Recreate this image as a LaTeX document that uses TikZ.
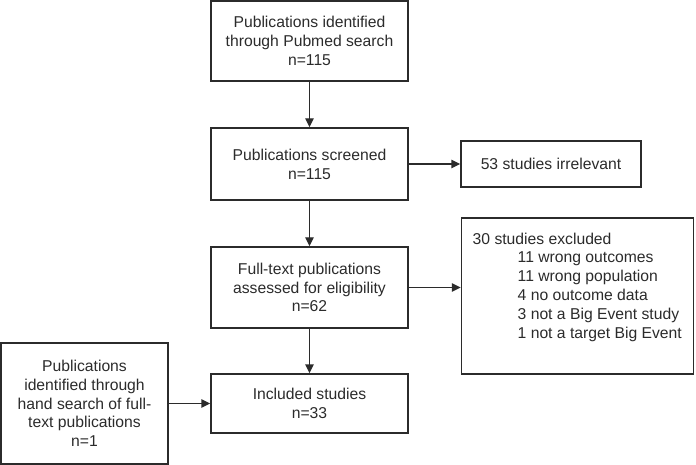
\documentclass[tikz,border=0pt]{standalone}
\usepackage{fontspec}
\setmainfont{Liberation Sans}
\usetikzlibrary{arrows.meta}
\definecolor{ink}{HTML}{2B2B2B}
\begin{document}
\begin{tikzpicture}[x=1pt,y=-1pt,
  box/.style={draw=ink, line width=1.4pt, rectangle, inner sep=0pt, align=center,
    text=ink, font=\fontsize{15.7}{18.8}\selectfont},
  conn/.style={draw=ink, line width=1.4pt, -{Triangle[length=9pt,width=8.5pt]}}]
\useasboundingbox (0,0) rectangle (696,465);
\node[box, minimum width=197pt, minimum height=80pt] (b1) at (309.5,41)
  {Publications identified\\through Pubmed search\\n=115};
\node[box, minimum width=197pt, minimum height=72pt] (b2) at (309.5,164)
  {Publications screened\\n=115};
\node[box, minimum width=197pt, minimum height=81pt] (b3) at (309.5,287.5)
  {Full-text publications\\assessed for eligibility\\n=62};
\node[box, minimum width=197pt, minimum height=59pt] (b4) at (309.5,403.5)
  {Included studies\\n=33};
\node[box, minimum width=167pt, minimum height=121pt] (lb) at (84.5,403.5)
  {Publications\\identified through\\hand search of full-\\text publications\\n=1};
\node[box, minimum width=180pt, minimum height=46pt] (r1) at (551,164)
  {53 studies irrelevant};
\node[box, minimum width=232pt, minimum height=156pt] (r2) at (577.5,296) {};
\node[box, draw=none, anchor=north west, align=left] (r2t) at (472,232)
  {30 studies excluded\\
   \hspace*{45pt}11 wrong outcomes\\
   \hspace*{45pt}11 wrong population\\
   \hspace*{45pt}4 no outcome data\\
   \hspace*{45pt}3 not a Big Event study\\
   \hspace*{45pt}1 not a target Big Event};
\draw[conn] (b1) -- (b2);
\draw[conn] (b2) -- (b3);
\draw[conn] (b3) -- (b4);
\draw[conn] (b2.east) -- (b2.east -| r1.west);
\draw[conn] (b3.east) -- (b3.east -| r2.west);
\draw[conn] (lb.east) -- (lb.east -| b4.west);
\end{tikzpicture}
\end{document}
